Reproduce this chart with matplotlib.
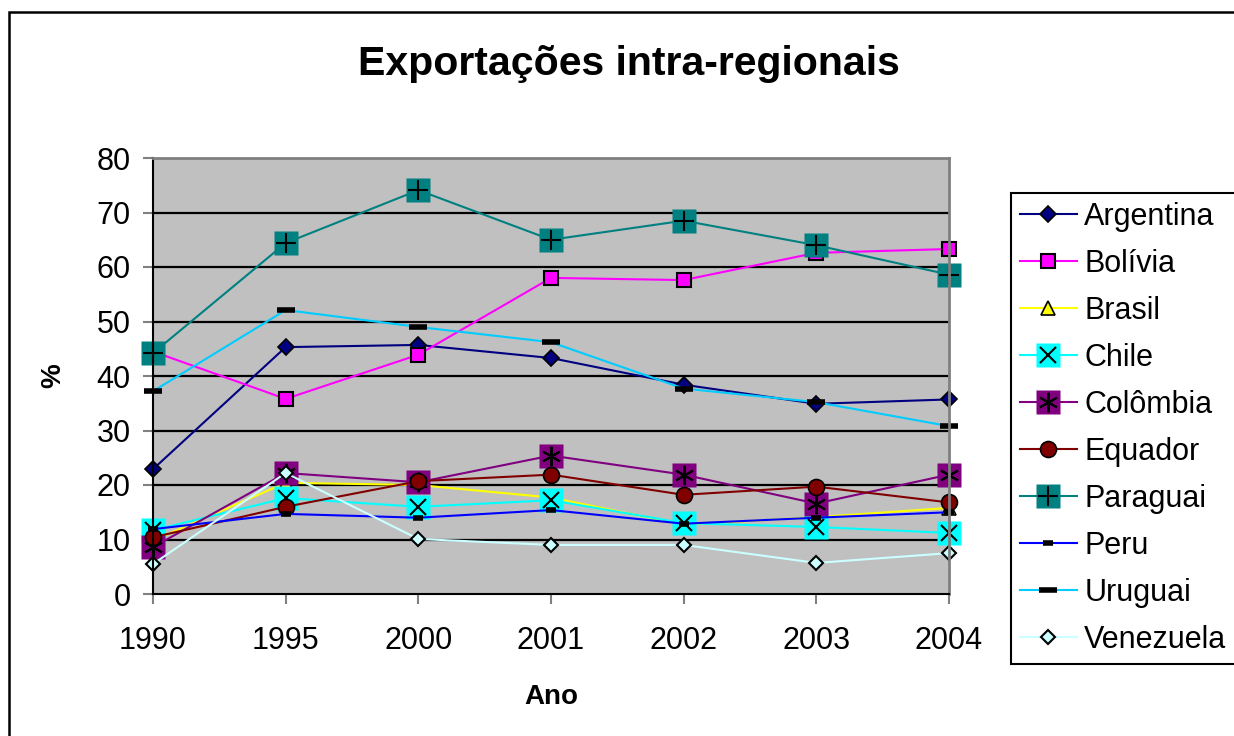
import matplotlib
matplotlib.use('Agg')
import matplotlib.pyplot as plt
from matplotlib.patches import Rectangle
from matplotlib.legend_handler import HandlerTuple

plt.rcParams['font.family'] = ['Liberation Sans', 'DejaVu Sans']

anos = ['1990', '1995', '2000', '2001', '2002', '2003', '2004']

argentina = [22.9, 45.3, 45.7, 43.3, 38.4, 34.9, 35.7]
bolivia = [44.5, 35.8, 43.9, 58.0, 57.6, 62.6, 63.3]
brasil = [9.8, 20.4, 20.0, 17.7, 12.7, 14.1, 15.8]
chile = [11.7, 17.6, 16.0, 17.2, 13.0, 12.3, 11.2]
colombia = [8.6, 22.2, 20.5, 25.4, 21.9, 16.6, 21.9]
equador = [10.4, 16.0, 20.7, 21.9, 18.2, 19.7, 16.8]
paraguai = [44.2, 64.4, 74.1, 65.0, 68.5, 64.0, 58.6]
peru = [11.9, 14.7, 14.0, 15.4, 12.9, 14.0, 15.0]
uruguai = [37.2, 52.1, 49.0, 46.2, 37.7, 35.2, 30.8]
venezuela = [5.5, 22.2, 10.1, 9.0, 9.0, 5.7, 7.5]

x = list(range(len(anos)))

fig = plt.figure(figsize=(12.34, 7.36), dpi=100)
ax = fig.add_axes([153 / 1234, 1 - 594 / 736, (949 - 153) / 1234, (594 - 158) / 736])
ax.set_facecolor('#c0c0c0')

# borda externa do gráfico
fig.patches.append(Rectangle((9 / 1234, -0.05), 1.2, 1 - 12 / 736 + 0.05,
                             transform=fig.transFigure, fill=False,
                             edgecolor='black', linewidth=1.8))

lw = 1.5
handles = []
labels = []

h, = ax.plot(x, argentina, color='#000080', lw=lw, marker='D', ms=8.5,
             mfc='#000080', mec='black', mew=1.2, clip_on=False)
handles.append(h); labels.append('Argentina')

h, = ax.plot(x, bolivia, color='#ff00ff', lw=lw, marker='s', ms=10.5,
             mfc='#ff00ff', mec='black', mew=1.5, clip_on=False)
handles.append(h); labels.append('Bolívia')

h, = ax.plot(x, brasil, color='#ffff00', lw=lw, marker='^', ms=10.5,
             mfc='#ffff00', mec='black', mew=1.2, clip_on=False)
handles.append(h); labels.append('Brasil')

h1, = ax.plot(x, chile, color='#00ffff', lw=lw, marker='s', ms=17,
              mfc='#00ffff', mec='none', clip_on=False)
h2, = ax.plot(x, chile, ls='none', marker='x', ms=11, mec='black', mew=1.5,
              clip_on=False)
handles.append((h1, h2)); labels.append('Chile')

h1, = ax.plot(x, colombia, color='#800080', lw=lw, marker='s', ms=17,
              mfc='#800080', mec='none', clip_on=False)
h2, = ax.plot(x, colombia, ls='none', marker=(6, 2, 0), ms=14, mec='black',
              mew=1.5, clip_on=False)
handles.append((h1, h2)); labels.append('Colômbia')

h, = ax.plot(x, equador, color='#800000', lw=lw, marker='o', ms=11.5,
             mfc='#800000', mec='black', mew=1.2, clip_on=False)
handles.append(h); labels.append('Equador')

h1, = ax.plot(x, paraguai, color='#008080', lw=lw, marker='s', ms=17,
              mfc='#008080', mec='none', clip_on=False)
h2, = ax.plot(x, paraguai, ls='none', marker='+', ms=14, mec='black', mew=1.5,
              clip_on=False)
handles.append((h1, h2)); labels.append('Paraguai')

h, = ax.plot(x, peru, color='#0000ff', lw=lw, marker='_', ms=7.5,
             mec='black', mew=4, clip_on=False)
handles.append(h); labels.append('Peru')

h, = ax.plot(x, uruguai, color='#00ccff', lw=lw, marker='_', ms=13,
             mec='black', mew=4, clip_on=False)
handles.append(h); labels.append('Uruguai')

h, = ax.plot(x, venezuela, color='#ccffff', lw=lw, marker='D', ms=7.5,
             mfc='#ccffff', mec='black', mew=1.5, clip_on=False)
handles.append(h); labels.append('Venezuela')

ax.set_xlim(0, 6)
ax.set_ylim(0, 80)
ax.set_xticks(x)
ax.set_xticklabels(anos)
ax.set_yticks(range(0, 81, 10))

for v in range(10, 80, 10):
    ax.axhline(v, color='black', lw=1.6, zorder=0.5)

for s in ['top', 'right']:
    ax.spines[s].set_color('#808080')
    ax.spines[s].set_linewidth(2)
for s in ['left', 'bottom']:
    ax.spines[s].set_color('black')
    ax.spines[s].set_linewidth(1.5)

ax.tick_params(axis='both', direction='out', length=7, width=1.5,
               color='#808080', labelsize=22)
ax.tick_params(axis='y', pad=9)
ax.tick_params(axis='x', pad=16)

ax.set_xlabel('Ano', fontsize=20, fontweight='bold', labelpad=20)
ax.set_ylabel('%', fontsize=20, fontweight='bold', labelpad=22)

fig.text(629 / 1234, 1 - 64 / 736, 'Exportações intra-regionais',
         fontsize=29.5, fontweight='bold', ha='center', va='center')

leg = fig.legend(handles, labels, loc='upper left',
                 bbox_to_anchor=(1011 / 1234, 1 - 193 / 736),
                 fontsize=22, frameon=True, fancybox=False, framealpha=1,
                 edgecolor='black', handlelength=1.85, handletextpad=0.25,
                 labelspacing=0.555, borderpad=0.3, borderaxespad=0,
                 handler_map={tuple: HandlerTuple(ndivide=1)})
leg.get_frame().set_linewidth(1.5)

fig.savefig('out.png', dpi=100)
